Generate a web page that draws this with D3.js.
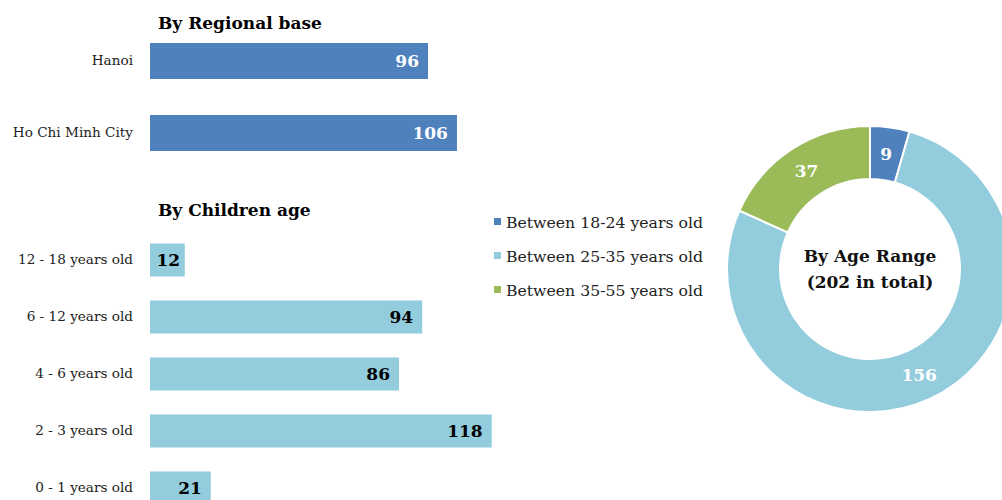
<!DOCTYPE html>
<html><head><meta charset="utf-8">
<script src="https://cdn.jsdelivr.net/npm/d3@7"></script>
<style>
body{margin:0;background:#fff;}
text{font-family:"DejaVu Serif",serif;}
</style></head>
<body><svg id="c" width="1002" height="500"></svg>
<script>
const regionCategories = ["Hanoi", "Ho Chi Minh City"];
const regionValues = [96, 106];
const childAgeCategories = ["12 - 18 years old", "6 - 12 years old", "4 - 6 years old", "2 - 3 years old", "0 - 1 years old"];
const childAgeValues = [12, 94, 86, 118, 21];
const ageRangeLabels = ["Between 18-24 years old", "Between 25-35 years old", "Between 35-55 years old"];
const ageRangeValues = [9, 156, 37];

const colors = ["#4F81BD", "#93CDDD", "#9BBB59"];
const FONT = '"DejaVu Serif",serif';
const svg = d3.select("#c");

const x = d3.scaleLinear().domain([0, 120]).range([150, 150 + 347.5]);

function placeValueLabels(sel, y, cats) {
  sel.each(function(d, i) {
    const t = d3.select(this);
    const w = this.getComputedTextLength();
    const barW = x(d) - x(0);
    if (w + 16 > barW) {
      t.attr("text-anchor", "middle").attr("x", x(0) + barW / 2 + 1);
    } else {
      t.attr("text-anchor", "end").attr("x", x(d) - 9);
    }
  });
}

// Regional
const yR = d3.scaleBand().domain(regionCategories).range([25, 169]).paddingInner(0.5).paddingOuter(0.25);
svg.append("text").attr("x", 158).attr("y", 29).attr("font-weight", "bold").attr("font-size", 17).attr("fill", "#000").text("By Regional base");
const gR = svg.append("g");
gR.selectAll("rect").data(regionValues).join("rect")
  .attr("x", x(0)).attr("y", (d, i) => yR(regionCategories[i]))
  .attr("width", d => x(d) - x(0)).attr("height", yR.bandwidth())
  .attr("fill", colors[0]);
gR.selectAll("text.v").data(regionValues).join("text").attr("class", "v")
  .attr("y", (d, i) => yR(regionCategories[i]) + yR.bandwidth() / 2)
  .attr("dy", "0.36em").attr("font-weight", "bold").attr("font-size", 17)
  .attr("fill", "#fff").text(d => d)
  .call(placeValueLabels);
const axR = svg.append("g").attr("transform", "translate(133,0)")
  .call(d3.axisLeft(yR).tickSize(0).tickPadding(0));
axR.select(".domain").remove();
axR.selectAll("text").attr("font-size", 13.6).attr("fill", "#222").style("font-family", FONT);

// Children age
const yC = d3.scaleBand().domain(childAgeCategories).range([231.5, 516.5]).paddingInner(0.42).paddingOuter(0.21);
svg.append("text").attr("x", 158).attr("y", 216).attr("font-weight", "bold").attr("font-size", 17).attr("fill", "#000").text("By Children age");
const gC = svg.append("g");
gC.selectAll("rect").data(childAgeValues).join("rect")
  .attr("x", x(0)).attr("y", (d, i) => yC(childAgeCategories[i]))
  .attr("width", d => x(d) - x(0)).attr("height", yC.bandwidth())
  .attr("fill", colors[1]);
gC.selectAll("text.v").data(childAgeValues).join("text").attr("class", "v")
  .attr("y", (d, i) => yC(childAgeCategories[i]) + yC.bandwidth() / 2)
  .attr("dy", "0.36em").attr("font-weight", "bold").attr("font-size", 17)
  .attr("fill", "#000").text(d => d)
  .call(placeValueLabels);
const axC = svg.append("g").attr("transform", "translate(133,0)")
  .call(d3.axisLeft(yC).tickSize(0).tickPadding(0));
axC.select(".domain").remove();
axC.selectAll("text").attr("font-size", 13.6).attr("fill", "#222").style("font-family", FONT);

// Legend
const lg = svg.append("g");
ageRangeLabels.forEach((l, i) => {
  const yy = 222 + i * 34;
  lg.append("rect").attr("x", 494).attr("y", yy - 4).attr("width", 7).attr("height", 7).attr("fill", colors[i]);
  lg.append("text").attr("x", 506).attr("y", yy).attr("dy", "0.36em").attr("font-size", 15.7).attr("fill", "#222").text(l);
});

// Donut
const cx = 870, cy = 269, rO = 143, rI = 90;
const pie = d3.pie().sort(null).value(d => d)(ageRangeValues);
const arc = d3.arc().innerRadius(rI).outerRadius(rO);
const gD = svg.append("g").attr("transform", `translate(${cx},${cy})`);
gD.selectAll("path").data(pie).join("path").attr("d", arc)
  .attr("fill", (d, i) => colors[i]).attr("stroke", "#fff").attr("stroke-width", 2);
const lblArc = d3.arc().innerRadius((rI + rO) / 2).outerRadius((rI + rO) / 2);
gD.selectAll("text.v").data(pie).join("text").attr("class", "v")
  .attr("transform", d => `translate(${lblArc.centroid(d)})`)
  .attr("text-anchor", "middle").attr("dy", "0.36em").attr("font-weight", "bold").attr("font-size", 17)
  .attr("fill", "#fff").text(d => d.data);
gD.append("text").attr("text-anchor", "middle").attr("y", -7).attr("font-weight", "bold").attr("font-size", 17).attr("fill", "#111").text("By Age Range");
gD.append("text").attr("text-anchor", "middle").attr("y", 19).attr("font-weight", "bold").attr("font-size", 17).attr("fill", "#111").text("(202 in total)");
</script></body></html>
